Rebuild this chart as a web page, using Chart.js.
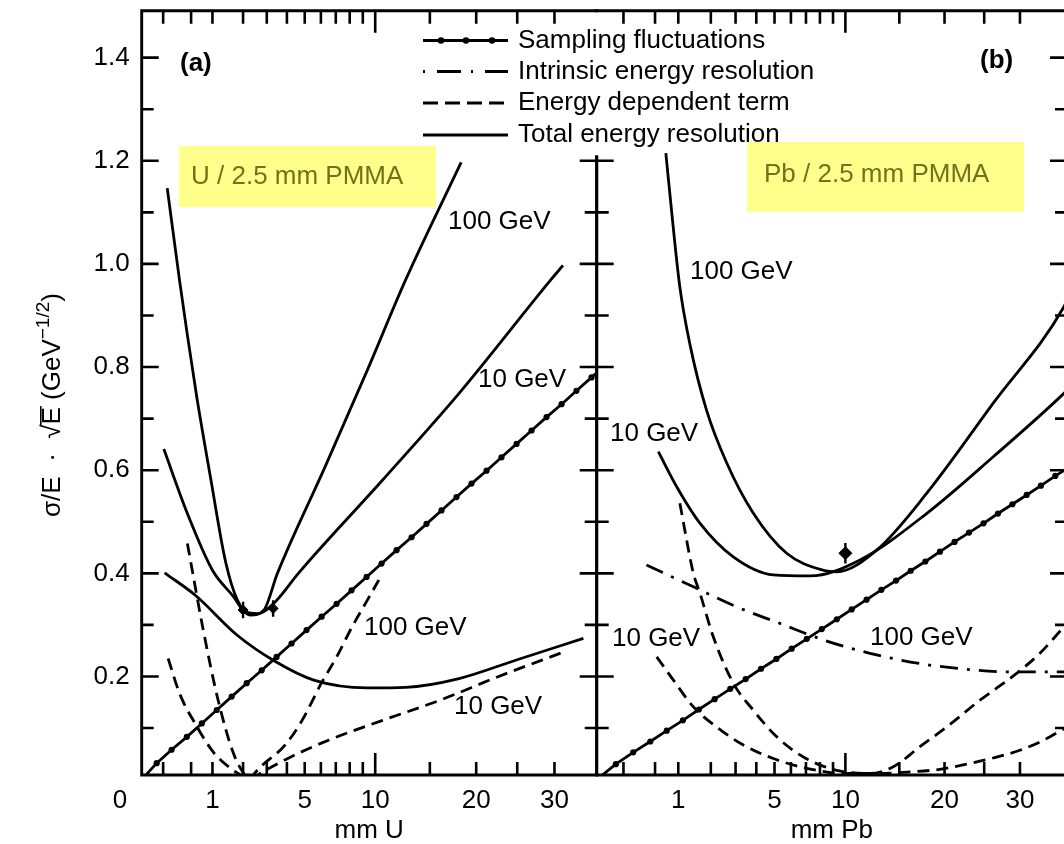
<!DOCTYPE html>
<html><head><meta charset="utf-8">
<script src="https://cdn.jsdelivr.net/npm/chart.js@4.4.1/dist/chart.umd.min.js"></script>
<style>
html,body{margin:0;padding:0;background:#fff;overflow:hidden;width:1064px;height:844px;}
#wrap{position:relative;width:1064px;height:844px;overflow:hidden;background:#fff;}
canvas{position:absolute;left:0;top:0;}
</style></head><body>
<div id="wrap"><canvas id="ca" width="1064" height="844"></canvas><canvas id="cb" width="1090" height="844"></canvas></div>
<script>
// ---------------- data ----------------
const xTickValues = [0, 1, 5, 10, 20, 30];
const xTickLabelsA = ['0', '1', '5', '10', '20', '30'];
const xTickLabelsB = ['', '1', '5', '10', '20', '30'];
const xMinorTicks = [0.1, 0.5, 1, 2, 3, 4, 5, 6, 7, 8, 9, 10, 15, 20, 25, 30];
const yTickValues = [0.2, 0.4, 0.6, 0.8, 1.0, 1.2, 1.4];
const yMinorTicks = [0.1, 0.3, 0.5, 0.7, 0.9, 1.1, 1.3];
const legendLabels = ['Sampling fluctuations', 'Intrinsic energy resolution', 'Energy dependent term', 'Total energy resolution'];

// Panel (a) U / 2.5 mm PMMA  (x in mm U)
const uSampD = [0, 0.05, 0.19, 0.42, 0.73, 1.12, 1.59, 2.14, 2.77, 3.47, 4.25, 5.11, 6.05, 7.06, 8.14, 9.30, 10.53, 11.84, 13.22, 14.67, 16.19, 17.79, 19.46, 21.21, 23.02, 24.91, 26.87, 28.90, 31.0, 33.16, 35.41, 36.2];
const uSampV = [0.0, 0.032, 0.058, 0.083, 0.109, 0.135, 0.161, 0.187, 0.212, 0.238, 0.264, 0.290, 0.316, 0.341, 0.367, 0.393, 0.419, 0.445, 0.470, 0.496, 0.522, 0.548, 0.574, 0.599, 0.625, 0.651, 0.677, 0.703, 0.728, 0.754, 0.780, 0.789];
const uTot100D = [0.14, 0.30, 0.43, 0.62, 0.95, 1.39, 1.79, 2.30, 2.87, 3.51, 6.28, 9.36, 12.66, 18.3];
const uTot100V = [1.147, 0.967, 0.862, 0.740, 0.585, 0.422, 0.348, 0.319, 0.329, 0.400, 0.607, 0.794, 0.969, 1.197];
const uTot10D = [0.106, 0.43, 1.0, 1.65, 2.07, 2.6, 3.41, 4.63, 10.62, 18.07, 29.48, 31.2];
const uTot10V = [0.641, 0.516, 0.406, 0.355, 0.326, 0.322, 0.345, 0.400, 0.581, 0.749, 0.969, 0.997];
const uIntrD = [0.113, 0.58, 1.785, 3.41, 5.55, 9.36, 12.66, 18.07, 24.89, 34.19];
const uIntrV = [0.401, 0.358, 0.280, 0.229, 0.193, 0.178, 0.179, 0.196, 0.232, 0.274];
const uE100D = [0.43, 0.51, 0.75, 1.16, 1.65, 2.07, 2.3, 2.46, 3.90, 4.85, 6.03, 7.06, 8.17, 9.36, 10.3];
const uE100V = [0.458, 0.413, 0.296, 0.154, 0.051, 0.009, 0.0, 0.012, 0.067, 0.115, 0.187, 0.238, 0.296, 0.348, 0.387];
const uE10D = [0.15, 0.30, 0.58, 1.05, 1.65, 2.07, 2.3, 2.70, 4.21, 6.54, 10.62, 16.03, 22.5, 31.39];
const uE10V = [0.235, 0.167, 0.109, 0.051, 0.018, 0.005, 0.0, 0.012, 0.044, 0.077, 0.115, 0.154, 0.199, 0.248];
const uPtD = [2.0, 3.3];
const uPtV = [0.329, 0.332];
const uPtErr = [0.016, 0.016];

// Panel (b) Pb / 2.5 mm PMMA  (x in mm Pb)
const pbSampD = [0, 0.05, 0.19, 0.42, 0.73, 1.12, 1.59, 2.14, 2.77, 3.47, 4.25, 5.11, 6.05, 7.06, 8.14, 9.30, 10.53, 11.84, 13.22, 14.67, 16.19, 17.79, 19.46, 21.21, 23.02, 24.91, 26.87, 28.90, 31.0, 33.16, 35.41, 37.3];
const pbSampV = [0.0, 0.030, 0.053, 0.074, 0.095, 0.115, 0.136, 0.156, 0.176, 0.195, 0.215, 0.234, 0.254, 0.273, 0.292, 0.311, 0.330, 0.349, 0.368, 0.386, 0.405, 0.423, 0.442, 0.461, 0.479, 0.497, 0.516, 0.534, 0.552, 0.570, 0.589, 0.603];
const pbTot100D = [0.71, 0.85, 1.04, 1.32, 1.85, 2.62, 3.84, 5.73, 8.25, 9.29, 12.77, 17.93, 26.22, 36.8, 37.3];
const pbTot100V = [1.215, 1.092, 0.955, 0.843, 0.716, 0.614, 0.517, 0.439, 0.406, 0.403, 0.445, 0.555, 0.730, 0.917, 0.93];
const pbTot10D = [0.56, 0.96, 1.63, 2.90, 4.93, 7.28, 11.25, 17.93, 26.22, 36.8, 37.3];
const pbTot10V = [0.636, 0.568, 0.497, 0.432, 0.397, 0.395, 0.426, 0.516, 0.626, 0.749, 0.755];
const pbIntrD = [0.36, 1.42, 3.05, 5.32, 8.25, 12.15, 17.19, 22.72, 28.56, 36.15, 37.3];
const pbIntrV = [0.416, 0.374, 0.335, 0.303, 0.271, 0.245, 0.225, 0.214, 0.209, 0.209, 0.209];
const pbE10D = [0.53, 0.88, 1.42, 2.22, 3.36, 4.93, 7.05, 9.83, 12.77, 16.11, 19.46, 22.72, 26.22, 30.0, 33.0, 36.15, 37.3];
const pbE10V = [0.238, 0.193, 0.141, 0.102, 0.067, 0.041, 0.022, 0.012, 0.012, 0.015, 0.020, 0.030, 0.042, 0.057, 0.073, 0.094, 0.102];
const pbE100D = [1.04, 1.42, 1.63, 2.09, 2.90, 3.84, 5.13, 6.82, 9.29, 12.15, 14.39, 17.19, 20.25, 24.44, 29.51, 33.0, 36.8, 37.3];
const pbE100V = [0.536, 0.400, 0.361, 0.277, 0.187, 0.135, 0.083, 0.044, 0.018, 0.012, 0.025, 0.064, 0.102, 0.154, 0.206, 0.245, 0.296, 0.302];
const pbPtD = [10];
const pbPtV = [0.439];
const pbPtErr = [0.02];

// ---------------- styling / layout ----------------
const FONT = "'Liberation Sans', Arial, Helvetica, sans-serif";
Chart.defaults.font.family = FONT;
Chart.defaults.color = '#000';
const Y_MIN = 0.009, Y_MAX = 1.491;
const LW = 2.8;
const DASHED = [12, 7];
const DASHDOT = [18, 9, 3, 9];

// power-law (≈ square-root) axis
class PowScale extends Chart.LinearScale {
  _p() { return this.options.exponent || 0.5; }
  getPixelForValue(value) {
    const p = this._p();
    const lo = Math.pow(this.min, p), hi = Math.pow(this.max, p);
    const t = (Math.pow(Math.max(value, 0), p) - lo) / (hi - lo);
    return this.getPixelForDecimal(t);
  }
  getValueForPixel(pixel) {
    const p = this._p();
    const lo = Math.pow(this.min, p), hi = Math.pow(this.max, p);
    const t = this.getDecimalForPixel(pixel);
    return Math.pow(lo + t * (hi - lo), 1 / p);
  }
}
PowScale.id = 'pow';
PowScale.defaults = Chart.LinearScale.defaults;
Chart.register(PowScale);

const framePlugin = {
  id: 'frame',
  afterDatasetsDraw(chart, args, o) {
    const ctx = chart.ctx, a = chart.chartArea, xs = chart.scales.x, ys = chart.scales.y;
    ctx.save();
    ctx.strokeStyle = '#000';
    ctx.lineWidth = 2.6;
    ctx.lineCap = 'butt';
    ctx.beginPath();
    xMinorTicks.forEach(v => {
      const px = xs.getPixelForValue(v);
      const len = v === 10 ? 22 : 13;
      ctx.moveTo(px, a.bottom); ctx.lineTo(px, a.bottom - len);
      ctx.moveTo(px, a.top); ctx.lineTo(px, a.top + len);
    });
    const yt = (v, len) => {
      const py = ys.getPixelForValue(v);
      ctx.moveTo(a.left, py); ctx.lineTo(a.left + len, py);
      ctx.moveTo(a.right, py); ctx.lineTo(a.right - len, py);
    };
    yTickValues.forEach(v => yt(v, 17));
    yMinorTicks.forEach(v => yt(v, 12));
    ctx.stroke();
    ctx.lineWidth = 2.9;
    ctx.lineCap = 'square';
    ctx.beginPath();
    ctx.moveTo(a.left, a.top); ctx.lineTo(a.right, a.top);
    ctx.moveTo(a.left, a.bottom); ctx.lineTo(a.right, a.bottom);
    ctx.moveTo(a.left, o.leftFrom || a.top); ctx.lineTo(a.left, a.bottom);
    ctx.moveTo(a.right, o.rightFrom || a.top); ctx.lineTo(a.right, a.bottom);
    ctx.stroke();
    ctx.restore();
  }
};

const textPlugin = {
  id: 'texts',
  beforeDatasetsDraw(chart, args, o) {
    const ctx = chart.ctx, b = o.box;
    if (!b) return;
    ctx.save();
    ctx.fillStyle = '#ffff8c';
    ctx.fillRect(b.x, b.y, b.w, b.h);
    ctx.restore();
  },
  afterDatasetsDraw(chart, args, o) {
    const ctx = chart.ctx;
    ctx.save();
    ctx.textBaseline = 'middle';
    ctx.textAlign = 'left';
    if (o.box) {
      ctx.fillStyle = '#72721c';
      ctx.font = `26px ${FONT}`;
      ctx.fillText(o.box.text, o.box.tx, o.box.ty);
    }
    ctx.fillStyle = '#000';
    (o.labels || []).forEach(l => {
      ctx.font = `${l.bold ? 'bold ' : ''}26px ${FONT}`;
      ctx.fillText(l.text, l.x, l.y);
    });
    if (o.ytitle) drawYTitle(ctx, o.ytitle);
    ctx.restore();
  }
};

function drawYTitle(ctx, t) {
  ctx.save();
  ctx.translate(t.x, t.y);
  ctx.rotate(-Math.PI / 2);
  ctx.fillStyle = '#000';
  ctx.strokeStyle = '#000';
  ctx.textBaseline = 'middle';
  ctx.textAlign = 'left';
  const f = t.size, fs = Math.round(t.size * 0.72);
  const parts = [
    { s: 'σ/E  ·  ', z: f, dy: 0 },
    { s: '√', z: f, dy: 0 },
    { s: 'E', z: f, dy: 0, over: true },
    { s: ' (GeV', z: f, dy: 0 },
    { s: '−1/2', z: fs, dy: -0.36 * f },
    { s: ')', z: f, dy: 0 }
  ];
  let W = 0;
  parts.forEach(p => { ctx.font = `${p.z}px ${FONT}`; p.w = ctx.measureText(p.s).width; W += p.w; });
  let x = -W / 2;
  parts.forEach(p => {
    ctx.font = `${p.z}px ${FONT}`;
    ctx.fillText(p.s, x, p.dy);
    if (p.over) {
      ctx.lineWidth = 1.6;
      ctx.beginPath();
      ctx.moveTo(x - 1, -0.47 * f); ctx.lineTo(x + p.w + 1, -0.47 * f);
      ctx.stroke();
    }
    x += p.w;
  });
  ctx.restore();
}

const legendPlugin = {
  id: 'customLegend',
  afterDraw(chart, args, o) {
    if (!o.show) return;
    const ctx = chart.ctx;
    ctx.save();
    ctx.fillStyle = '#fff';
    ctx.fillRect(o.bg.x, o.bg.y, o.bg.w, o.bg.h);
    const styles = [
      { dash: [], dots: true },
      { dash: [2, 12, 24, 10], dots: false },
      { dash: [15, 7], dots: false },
      { dash: [], dots: false }
    ];
    legendLabels.forEach((lab, i) => {
      const y = o.rows[i];
      const st = styles[i];
      ctx.strokeStyle = '#000';
      ctx.lineWidth = LW;
      ctx.setLineDash(st.dash);
      ctx.beginPath();
      ctx.moveTo(o.x0, y); ctx.lineTo(o.x1, y);
      ctx.stroke();
      ctx.setLineDash([]);
      if (st.dots) {
        ctx.fillStyle = '#000';
        o.dotX.forEach(dx => { ctx.beginPath(); ctx.arc(dx, y, 3.3, 0, Math.PI * 2); ctx.fill(); });
      }
      ctx.fillStyle = '#000';
      ctx.font = `26px ${FONT}`;
      ctx.textBaseline = 'middle';
      ctx.textAlign = 'left';
      ctx.fillText(lab, o.tx, y);
    });
    ctx.restore();
  }
};

Chart.register(framePlugin, textPlugin, legendPlugin);

function pts(ds, vs) { return ds.map((d, i) => ({ x: d, y: vs[i] })); }
function curve(ds, vs, dash) {
  return { data: pts(ds, vs), borderColor: '#000', borderWidth: LW, borderDash: dash || [], pointRadius: 0, fill: false, cubicInterpolationMode: 'monotone' };
}
function sampling(ds, vs) {
  const n = ds.length;
  return { data: pts(ds, vs), borderColor: '#000', borderWidth: LW, fill: false, tension: 0,
    pointRadius: c => (c.dataIndex === 0 || c.dataIndex === n - 1) ? 0 : 3.1,
    pointBackgroundColor: '#000', pointBorderWidth: 0, pointHoverRadius: 0 };
}
function markers(ds, vs, r) {
  return { data: pts(ds, vs), showLine: false, pointStyle: 'rectRot', pointRadius: r, pointBackgroundColor: '#000', pointBorderColor: '#000', pointBorderWidth: 1 };
}
function errBars(ds, vs, es) {
  return ds.map((d, i) => ({ data: [{ x: d, y: vs[i] - es[i] }, { x: d, y: vs[i] + es[i] }], borderColor: '#000', borderWidth: 2.4, pointRadius: 0, fill: false }));
}

function xScale(max, exponent, title, labels) {
  return {
    type: 'pow', exponent: exponent, min: 0, max: max, position: 'bottom',
    afterBuildTicks: s => { s.ticks = xTickValues.map(v => ({ value: v })); },
    afterFit: s => { s.height = 69; s.paddingLeft = 0; s.paddingRight = 0; },
    grid: { display: false, drawTicks: false }, border: { display: false },
    ticks: { autoSkip: false, maxRotation: 0, minRotation: 0, padding: 10, font: { size: 26 }, color: '#000',
      callback: (v, i) => i === 0 && labels[0] ? labels[0] + ' '.repeat(6) : labels[i] },
    title: { display: true, text: title, font: { size: 26, lineHeight: 1 }, color: '#000', padding: { top: 0, bottom: 0 } }
  };
}

function yScale(display) {
  return {
    type: 'linear', min: Y_MIN, max: Y_MAX, display: display,
    afterBuildTicks: s => { s.ticks = yTickValues.map(v => ({ value: v })); },
    afterFit: s => { if (display) s.width = 141.7; s.paddingTop = 0; s.paddingBottom = 0; },
    grid: { display: false, drawTicks: false }, border: { display: false },
    ticks: { padding: 12, font: { size: 26 }, color: '#000', callback: v => Number(v).toFixed(1) }
  };
}

const chartA = new Chart(document.getElementById('ca'), {
  type: 'line',
  data: { datasets: [
    sampling(uSampD, uSampV),
    curve(uTot100D, uTot100V),
    curve(uTot10D, uTot10V),
    curve(uIntrD, uIntrV),
    curve(uE100D, uE100V, DASHED),
    curve(uE10D, uE10V, DASHED),
    ...errBars(uPtD, uPtV, uPtErr),
    markers(uPtD, uPtV, 5)
  ] },
  options: {
    responsive: false, animation: false, devicePixelRatio: 1, events: [],
    layout: { padding: { left: 0, right: 1064 - 596.7, top: 10.7, bottom: 0 } },
    plugins: {
      legend: { display: false }, tooltip: { enabled: false },
      frame: { rightFrom: 157 },
      customLegend: { show: false },
      texts: {
        box: { x: 179, y: 146, w: 257, h: 61, text: 'U / 2.5 mm PMMA', tx: 191, ty: 177 },
        labels: [
          { text: '(a)', x: 180, y: 64, bold: true },
          { text: '100 GeV', x: 448, y: 222 },
          { text: '10 GeV', x: 478, y: 380 },
          { text: '100 GeV', x: 364, y: 628 },
          { text: '10 GeV', x: 454, y: 707 }
        ],
        ytitle: { x: 53, y: 405, size: 26 }
      }
    },
    scales: { x: xScale(36.2, 0.5185, 'mm U', xTickLabelsA), y: yScale(true) }
  }
});

const chartB = new Chart(document.getElementById('cb'), {
  type: 'line',
  data: { datasets: [
    sampling(pbSampD, pbSampV),
    curve(pbTot100D, pbTot100V),
    curve(pbTot10D, pbTot10V),
    curve(pbIntrD, pbIntrV, DASHDOT),
    curve(pbE10D, pbE10V, DASHED),
    curve(pbE100D, pbE100V, DASHED),
    ...errBars(pbPtD, pbPtV, pbPtErr),
    markers(pbPtD, pbPtV, 6.5)
  ] },
  options: {
    responsive: false, animation: false, devicePixelRatio: 1, events: [],
    layout: { padding: { left: 596.7, right: 1090 - 1067, top: 10.7, bottom: 0 } },
    plugins: {
      legend: { display: false }, tooltip: { enabled: false },
      frame: { leftFrom: 157 },
      customLegend: { show: true, bg: { x: 418, y: 26, w: 327, h: 119 }, rows: [40.5, 71.5, 103, 135], x0: 423, x1: 508, dotX: [441, 466, 492], tx: 518 },
      texts: {
        box: { x: 747, y: 142, w: 277, h: 70, text: 'Pb / 2.5 mm PMMA', tx: 764, ty: 175 },
        labels: [
          { text: '(b)', x: 980, y: 61, bold: true },
          { text: '100 GeV', x: 690, y: 272 },
          { text: '10 GeV', x: 610, y: 434 },
          { text: '10 GeV', x: 612, y: 639 },
          { text: '100 GeV', x: 870, y: 638 }
        ]
      }
    },
    scales: { x: xScale(37.3, 0.484, 'mm Pb', xTickLabelsB), y: yScale(false) }
  }
});
</script>
</body></html>
